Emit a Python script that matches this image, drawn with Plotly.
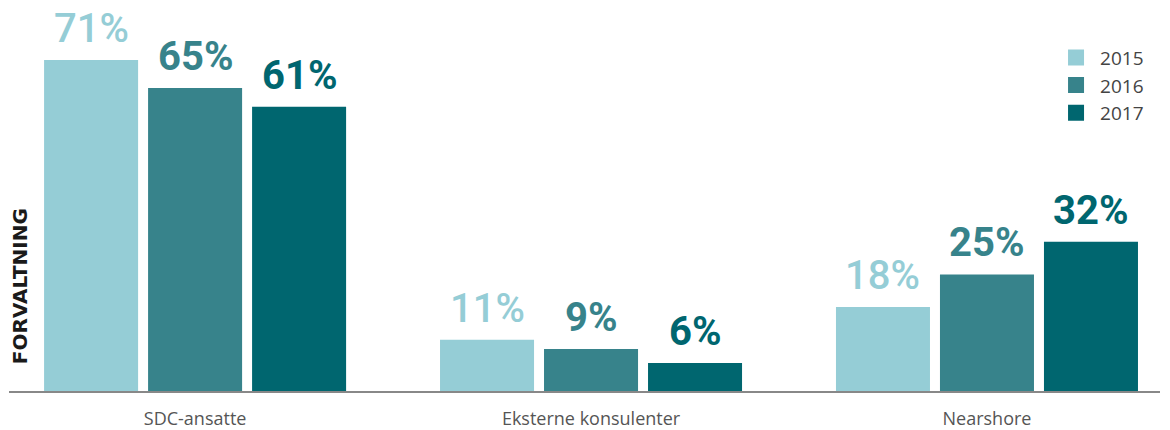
import plotly.graph_objects as go

categories = ["SDC-ansatte", "Eksterne konsulenter", "Nearshore"]
years = ["2015", "2016", "2017"]
values_2015 = [71, 11, 18]
values_2016 = [65, 9, 25]
values_2017 = [61, 6, 32]
colors = ["#95CDD6", "#37838B", "#00666F"]
label_weights = [500, "bold", "bold"]

series = [values_2015, values_2016, values_2017]

fig = go.Figure()
for yr, vals, col in zip(years, series, colors):
    fig.add_trace(go.Bar(name=yr, x=categories, y=vals, marker_color=col,
                         marker_line_width=0, showlegend=False))
# legend entries with larger square swatches
for yr, col in zip(years, colors):
    fig.add_trace(go.Scatter(name=yr, x=[None], y=[None], mode="markers",
                             marker=dict(symbol="square", size=17, color=col)))

slot_px = 104
for i, (vals, col, wt) in enumerate(zip(series, colors, label_weights)):
    for c, v in zip(categories, vals):
        fig.add_annotation(x=c, y=v, text=f"{v}%", showarrow=False,
                           xref="x", yref="y", xshift=(i - 1) * slot_px,
                           yanchor="bottom", yshift=6,
                           font=dict(family="Roboto", size=40, color=col, weight=wt))

fig.add_annotation(text="FORVALTNING", textangle=-90, showarrow=False,
                   xref="paper", yref="y", x=0.0, y=22.5, xanchor="center", yanchor="middle",
                   xshift=11,
                   font=dict(family="DejaVu Sans", size=20, color="#1a1a1a", weight="bold"))

fig.update_layout(
    width=1170, height=430,
    margin=dict(l=9, r=10, t=20, b=39),
    paper_bgcolor="white", plot_bgcolor="white",
    barmode="group", bargap=0.212, bargroupgap=0.096,
    font=dict(family="Open Sans", color="#444444"),
    legend=dict(x=0.9062, y=0.95, xanchor="left", yanchor="top",
                font=dict(family="Open Sans", size=19, color="#444444"), tracegroupgap=0,
                itemwidth=38, bgcolor="rgba(0,0,0,0)"),
    xaxis=dict(range=[-0.47, 2.437], showline=True, linecolor="#888888", linewidth=2,
               showgrid=False, ticks="", ticklabelstandoff=10, automargin=False,
               tickfont=dict(family="Open Sans", size=18, color="#555555")),
    yaxis=dict(range=[0, 79.6], showgrid=False, showticklabels=False, zeroline=False,
               showline=False, automargin=False),
)

fig.write_html("out.html", config={"displayModeBar": False},
               post_script="document.body.style.margin='0';document.body.style.overflow='hidden';")
